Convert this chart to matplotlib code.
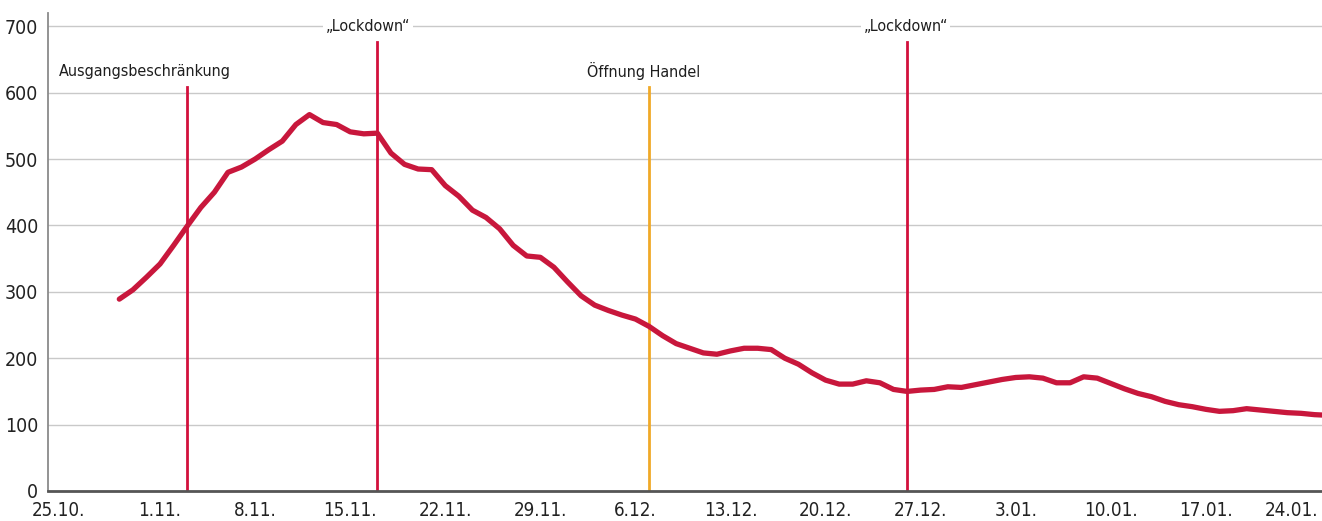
import datetime as dt
import matplotlib
matplotlib.use("Agg")
import matplotlib.pyplot as plt
import matplotlib.dates as mdates
from matplotlib.transforms import ScaledTranslation

plt.rcParams['font.family'] = ['DejaVu Sans']
plt.rcParams['font.stretch'] = 'condensed'

# 7-day incidence, daily values from 29.10.2020
start = dt.date(2020, 10, 29)
incidence = [289, 303, 322, 342, 370, 399, 427, 450, 480, 488,
             500, 514, 527, 552, 567, 555, 552, 541, 538, 539,
             509, 492, 485, 484, 460, 444, 423, 412, 395, 370,
             354, 352, 337, 315, 294, 280, 272, 265, 259, 248,
             234, 222, 215, 208, 206, 211, 215, 215, 213, 200,
             191, 178, 167, 161, 161, 166, 163, 153, 150, 152,
             153, 157, 156, 160, 164, 168, 171, 172, 170, 163,
             163, 172, 170, 162, 154, 147, 142, 135, 130, 127,
             123, 120, 121, 124, 122, 120, 118, 117, 115, 114]
days = [start + dt.timedelta(days=i) for i in range(len(incidence))]

# measures
events = ["Ausgangsbeschränkung", "„Lockdown“", "Öffnung Handel", "„Lockdown“"]
event_dates = [dt.date(2020, 11, 3), dt.date(2020, 11, 17), dt.date(2020, 12, 7), dt.date(2020, 12, 26)]
event_colors = ["#d2103c", "#d2103c", "#f0a928", "#d2103c"]
event_tops = [609, 677, 609, 677]
label_y = [632, 700, 632, 700]
label_shift = [-3.1, -0.7, -0.4, -0.1]  # days, horizontal nudge of the labels

tick_dates = [dt.date(2020, 10, 25) + dt.timedelta(days=7 * i) for i in range(14)]
tick_labels = ["25.10.", "1.11.", "8.11.", "15.11.", "22.11.", "29.11.", "6.12.",
               "13.12.", "20.12.", "27.12.", "3.01.", "10.01.", "17.01.", "24.01."]

fig = plt.figure(figsize=(13.22, 5.21), dpi=100)
ax = fig.add_axes([48 / 1322, 30 / 521, 1274 / 1322, 478 / 521])

ax.set_ylim(0, 720)
x0 = mdates.date2num(dt.date(2020, 10, 25))
ax.set_xlim(x0 - 1.25, x0 + 92.55)
ax.set_yticks(range(0, 701, 100))
ax.yaxis.grid(True, color="#c9c9c9", linewidth=1.0)
ax.set_axisbelow(True)

for d, c, top in zip(event_dates, event_colors, event_tops):
    ax.plot([d, d], [0, top], color=c, linewidth=2.0, zorder=2)

ax.plot(days, incidence, color="#c8173c", linewidth=3.8, solid_joinstyle="round",
        solid_capstyle="round", zorder=3)

for name, d, yv, s in zip(events, event_dates, label_y, label_shift):
    ax.text(mdates.date2num(d) + s, yv, name, ha="center", va="center", fontsize=11.5,
            color="#1e1e1e", zorder=4,
            bbox=dict(boxstyle="square,pad=0.15", facecolor="white", edgecolor="none"))

ax.set_xticks(tick_dates)
ax.set_xticklabels(tick_labels)
ax.tick_params(axis="y", length=0, labelsize=14, colors="#222222", pad=7)
ax.tick_params(axis="x", length=0, labelsize=13.5, colors="#222222", pad=7)

# keep the outer date labels inside the figure
xlabels = ax.get_xticklabels()
xlabels[0].set_transform(xlabels[0].get_transform() + ScaledTranslation(-0.06, 0, fig.dpi_scale_trans))
xlabels[-1].set_horizontalalignment("right")
xlabels[-1].set_transform(xlabels[-1].get_transform() + ScaledTranslation(0.17, 0, fig.dpi_scale_trans))

for side in ["top", "right"]:
    ax.spines[side].set_visible(False)
ax.spines["left"].set_color("#8a8a8a")
ax.spines["left"].set_linewidth(1.3)
ax.spines["bottom"].set_color("#555555")
ax.spines["bottom"].set_linewidth(2.0)
ax.spines["bottom"].set_zorder(5)

fig.savefig("out.png", dpi=100)
